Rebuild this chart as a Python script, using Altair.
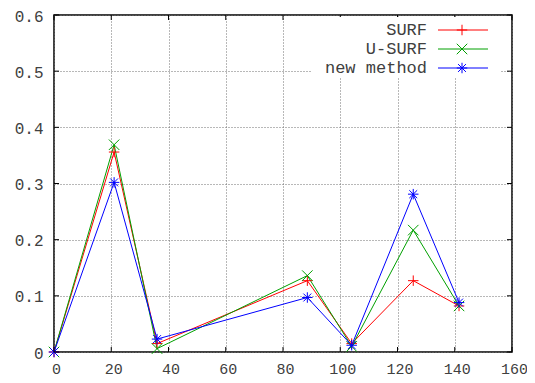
import altair as alt
import pandas as pd

# ---- data ----
x_vals = [0, 21, 36, 88.5, 104, 125.5, 141.5]
surf = [0.0, 0.356, 0.015, 0.127, 0.015, 0.127, 0.082]
usurf = [0.0, 0.369, 0.006, 0.136, 0.010, 0.217, 0.082]
newm = [0.0, 0.302, 0.023, 0.097, 0.012, 0.281, 0.088]
series = ["SURF", "U-SURF", "new method"]
x_ticks = [0, 20, 40, 60, 80, 100, 120, 140, 160]
y_ticks = [0, 0.1, 0.2, 0.3, 0.4, 0.5, 0.6]

colors = ["#ff0000", "#00a000", "#0000ff"]
shapes = [
    "M-1,0L1,0M0,-1L0,1",
    "M-1,-1L1,1M-1,1L1,-1",
    "M-1,0L1,0M0,-1L0,1M-0.75,-0.75L0.75,0.75M-0.75,0.75L0.75,-0.75",
]

rows = []
for name, vals in zip(series, [surf, usurf, newm]):
    for xv, yv in zip(x_vals, vals):
        rows.append({"x": xv, "y": yv, "series": name})
df = pd.DataFrame(rows)

W, H = 458, 337
FONT = "Liberation Mono"
TXT = "#404040"

xscale = alt.Scale(domain=[0, 160], nice=False, zero=False)
yscale = alt.Scale(domain=[0, 0.6], nice=False)
cscale = alt.Scale(domain=series, range=colors)
sscale = alt.Scale(domain=series, range=shapes)

xaxis = alt.Axis(values=x_ticks, title=None, format="d", labelFont=FONT, labelFontSize=15,
                 labelColor=TXT, labelPadding=9, labelOffset=2, ticks=False, domain=False,
                 grid=True, gridDash=[1, 2], gridColor="#707070", labelFlush=False)
yaxis = alt.Axis(values=y_ticks, title=None, format=".1~f", labelFont=FONT, labelFontSize=16,
                 labelColor=TXT, labelPadding=11, labelOffset=1, ticks=False, domain=False,
                 grid=True, gridDash=[1, 2], gridColor="#707070", labelFlush=False)

base = alt.Chart(df)
lines = base.mark_line(strokeWidth=1).encode(
    x=alt.X("x:Q", scale=xscale, axis=xaxis),
    y=alt.Y("y:Q", scale=yscale, axis=yaxis),
    color=alt.Color("series:N", scale=cscale, legend=None),
    order=alt.Order("x:Q"),
)
points = base.mark_point(filled=False, strokeWidth=1, size=110, opacity=1).encode(
    x=alt.X("x:Q", scale=xscale, axis=xaxis),
    y=alt.Y("y:Q", scale=yscale, axis=yaxis),
    color=alt.Color("series:N", scale=cscale, legend=None),
    shape=alt.Shape("series:N", scale=sscale, legend=None),
)

# inward tick marks on all four sides
xt = pd.DataFrame({"x": x_ticks})
yt = pd.DataFrame({"y": y_ticks})
tick_b = alt.Chart(xt).mark_rule(color="black", strokeWidth=1).encode(
    x=alt.X("x:Q", scale=xscale, axis=xaxis), y=alt.value(H), y2=alt.value(H - 5))
tick_t = alt.Chart(xt).mark_rule(color="black", strokeWidth=1).encode(
    x=alt.X("x:Q", scale=xscale, axis=xaxis), y=alt.value(0), y2=alt.value(5))
tick_l = alt.Chart(yt).mark_rule(color="black", strokeWidth=1).encode(
    y=alt.Y("y:Q", scale=yscale, axis=yaxis), x=alt.value(0), x2=alt.value(5))
tick_r = alt.Chart(yt).mark_rule(color="black", strokeWidth=1).encode(
    y=alt.Y("y:Q", scale=yscale, axis=yaxis), x=alt.value(W), x2=alt.value(W - 5))

# gnuplot-style key, top right
leg_df = pd.DataFrame({"series": series})
legend_bg = alt.Chart(leg_df).mark_rect(color="white", opacity=1).encode(
    x=alt.value(258), x2=alt.value(446), y=alt.value(2), y2=alt.value(63))
leg_layers = [legend_bg]
for i, name in enumerate(series):
    ly = 15 + 19 * i
    sub = alt.Chart(leg_df).transform_filter(alt.datum.series == name)
    leg_layers.append(sub.mark_text(align="right", baseline="middle", font=FONT, fontSize=17,
                                    color=TXT).encode(
        x=alt.value(373), y=alt.value(ly), text=alt.Text("series:N")))
    leg_layers.append(sub.mark_rule(strokeWidth=1).encode(
        x=alt.value(384), x2=alt.value(434), y=alt.value(ly),
        color=alt.Color("series:N", scale=cscale, legend=None)))
    leg_layers.append(sub.mark_point(filled=False, strokeWidth=1, size=110, opacity=1).encode(
        x=alt.value(408), y=alt.value(ly),
        color=alt.Color("series:N", scale=cscale, legend=None),
        shape=alt.Shape("series:N", scale=sscale, legend=None)))

chart = alt.layer(lines, points, tick_b, tick_t, tick_l, tick_r, *leg_layers).properties(
    width=W, height=H,
    autosize=alt.AutoSizeParams(type="none"),
    padding={"left": 46, "top": 7, "right": 15, "bottom": 25},
).configure(background="white").configure_view(stroke="black", strokeWidth=1.5)

chart.save("out.html", embed_options={"renderer": "svg", "actions": False})
